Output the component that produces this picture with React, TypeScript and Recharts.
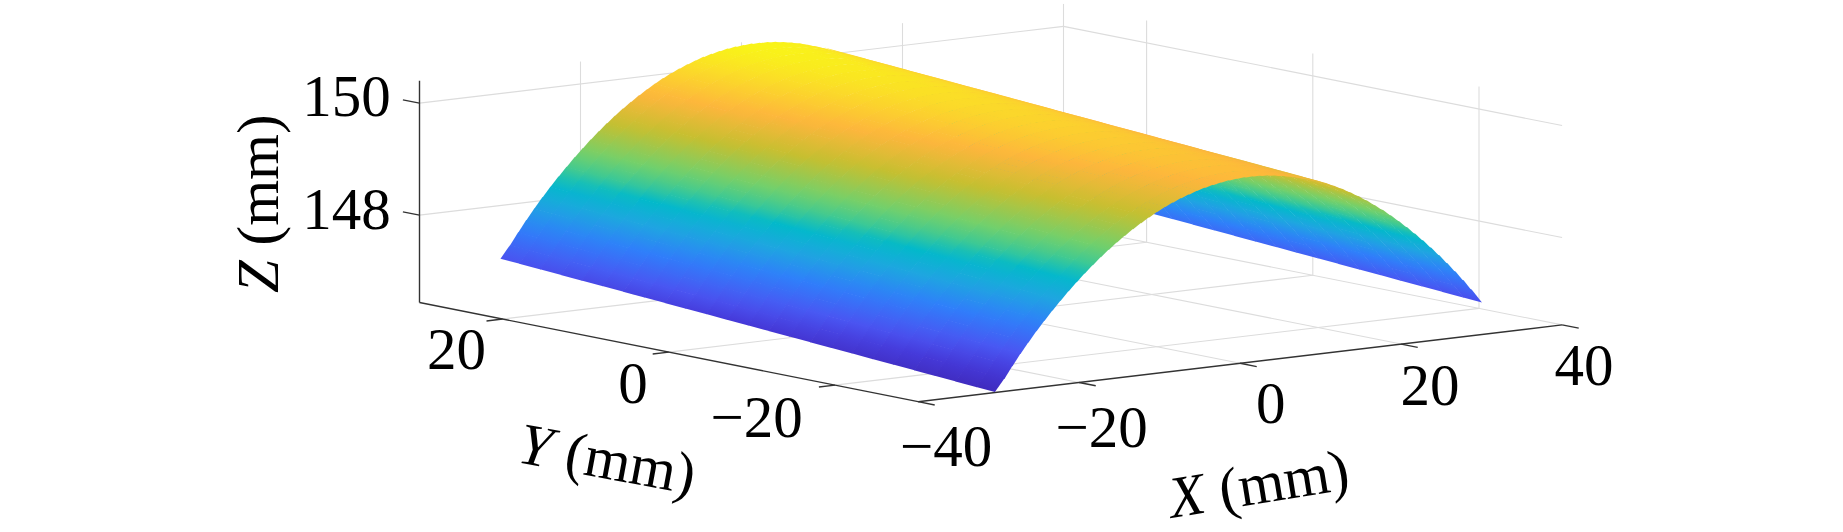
import React from 'react';
import { ScatterChart, Scatter, XAxis, YAxis } from 'recharts';

// ---- data -----------------------------------------------------------------
const xTicks = [-40, -20, 0, 20, 40];
const yTicks = [20, 0, -20];
const zTicks = [150, 148];
const xRange = [-40, 40];
const yRange = [-30, 30];
const zRange = [146.44, 150.4];

const xStations = [
  -30.2, -29, -28, -27, -26, -25, -24, -23, -22, -21, -20, -19, -18, -17, -16, -15, -14, -13, -12, -11, -10,
  -9, -8, -7, -6, -5, -4, -3, -2, -1, 0, 1, 2, 3, 4, 5, 6, 7, 8, 9, 10,
  11, 12, 13, 14, 15, 16, 17, 18, 19, 20, 21, 22, 23, 24, 25, 26, 27, 28, 29, 30.3,
];
const zProfile = [
  146.75, 146.975, 147.185, 147.385, 147.575, 147.757, 147.929, 148.093, 148.251, 148.403, 148.547,
  148.686, 148.817, 148.942, 149.06, 149.171, 149.275, 149.374, 149.465, 149.55, 149.628,
  149.7, 149.764, 149.824, 149.875, 149.922, 149.96, 149.993, 150.018, 150.038, 150.05,
  150.057, 150.056, 150.05, 150.036, 150.017, 149.989, 149.957, 149.916, 149.871, 149.818,
  149.759, 149.693, 149.621, 149.541, 149.456, 149.364, 149.265, 149.159, 149.047, 148.927,
  148.802, 148.669, 148.53, 148.385, 148.232, 148.072, 147.907, 147.733, 147.553, 147.31,
];
const yStations = [
  -29.75, -27.5, -25, -22.5, -20, -17.5, -15, -12.5, -10, -7.5, -5, -2.5, 0,
  2.5, 5, 7.5, 10, 12.5, 15, 17.5, 20, 22.5, 25, 27.5, 29.75,
];
const zShiftAlongY = [
  -0.312, -0.289, -0.263, -0.236, -0.21, -0.184, -0.158, -0.131, -0.105, -0.079, -0.053, -0.026, 0,
  0.026, 0.053, 0.079, 0.105, 0.131, 0.158, 0.184, 0.21, 0.236, 0.263, 0.289, 0.312,
];
const colorStops: [number, string][] = [
  [0, '#3f2bbd'],
  [0.08, '#4538d8'],
  [0.16, '#4a55f2'],
  [0.28, '#2f7ffa'],
  [0.38, '#1ea6e0'],
  [0.465, '#02b9ca'],
  [0.52, '#3cc995'],
  [0.59, '#74d06a'],
  [0.71, '#c6bf30'],
  [0.82, '#fdb63c'],
  [0.92, '#fbdc28'],
  [1, '#f8fa14'],
];

// ---- orthographic view of the 3-D box --------------------------------------
const W = 1843;
const H = 532;
const project = (x: number, y: number, z: number) => ({
  px: 419.5 + (x + 40) * 8.05 + (30 - y) * 8.31,
  py: 302.5 - (x + 40) * 0.96 + (30 - y) * 1.653 - (z - zRange[0]) * 56,
});

const hexToRgb = (h: string) => [1, 3, 5].map((i) => parseInt(h.slice(i, i + 2), 16));
const colorOf = (z: number) => {
  const t = Math.max(0, Math.min(1, (z - 146.44) / (150.42 - 146.44)));
  for (let i = 1; i < colorStops.length; i++) {
    if (t <= colorStops[i][0]) {
      const [a, ca] = colorStops[i - 1];
      const [b, cb] = colorStops[i];
      const f = (t - a) / (b - a);
      const A = hexToRgb(ca);
      const B = hexToRgb(cb);
      return `rgb(${A.map((v, k) => Math.round(v + (B[k] - v) * f)).join(',')})`;
    }
  }
  return colorStops[colorStops.length - 1][1];
};

// ---- marks built from the arrays --------------------------------------------
type Seg = { px: number; py: number; dx: number; dy: number };
const seg = (a: number[], b: number[]): Seg => {
  const p = project(a[0], a[1], a[2]);
  const q = project(b[0], b[1], b[2]);
  return { px: p.px, py: p.py, dx: q.px - p.px, dy: q.py - p.py };
};
const [x0, x1] = xRange;
const [y0, y1] = yRange;
const [z0, z1] = zRange;
const GRID_FLOOR_Y = 24;
const GRID_WALL_Z = z0 + 0.1;

const gridSegments: Seg[] = [
  ...zTicks.flatMap((z) => [seg([x0, y1, z], [x1, y1, z]), seg([x1, y1, z], [x1, y0, z])]),
  ...xTicks
    .filter((x) => x > x0)
    .flatMap((x) => [
      seg([x, y1, x === x1 ? z0 : GRID_WALL_Z], [x, y1, z1]),
      seg([x, x === x1 ? y1 : GRID_FLOOR_Y, z0], [x, y0, z0]),
    ]),
  ...yTicks.flatMap((y) => [seg([x1, y, z0], [x1, y, z1]), seg([x0, y, z0], [x1, y, z0])]),
];
const TICK = 2;
const axisSegments: Seg[] = [
  seg([x0, y1, z0], [x0, y1, z1]),
  seg([x0, y1, z0], [x0, y0, z0]),
  seg([x0, y0, z0], [x1, y0, z0]),
  ...zTicks.map((z) => seg([x0, y1, z], [x0, y1 + TICK, z])),
  ...yTicks.map((y) => seg([x0, y, z0], [x0 - TICK, y, z0])),
  ...xTicks.map((x) => seg([x, y0, z0], [x, y0 - TICK, z0])),
];

type Quad = { px: number; py: number; id: string; pts: number[][]; g: number[]; c0: string; c1: string };
const OVERLAP = 0.7;
const quads: Quad[] = [];
for (let i = xStations.length - 2; i >= 0; i--) {
  for (let j = yStations.length - 2; j >= 0; j--) {
    const z = (a: number, b: number) => zProfile[a] + zShiftAlongY[b];
    const A = project(xStations[i], yStations[j], z(i, j));
    const B = project(xStations[i], yStations[j + 1], z(i, j + 1));
    const C = project(xStations[i + 1], yStations[j + 1], z(i + 1, j + 1));
    const D = project(xStations[i + 1], yStations[j], z(i + 1, j));
    // gradient axis square to the strip's edges, so that neighbours meet seamlessly
    const ex = B.px - A.px;
    const ey = B.py - A.py;
    const len = Math.hypot(ex, ey);
    const nx = -ey / len;
    const ny = ex / len;
    const d = (D.px - A.px) * nx + (D.py - A.py) * ny;
    // each cell runs slightly under the cells painted after it, hiding the seams
    const s = d >= 0 ? -1 : 1;
    const ox = i > 0 ? s * nx * OVERLAP : 0;
    const oy = i > 0 ? s * ny * OVERLAP : 0;
    const tx = j > 0 ? (-ex / len) * OVERLAP : 0;
    const ty = j > 0 ? (-ey / len) * OVERLAP : 0;
    const corners = [
      [A.px + ox + tx, A.py + oy + ty],
      [B.px + ox, B.py + oy],
      [C.px, C.py],
      [D.px + tx, D.py + ty],
    ];
    quads.push({
      px: A.px,
      py: A.py,
      id: `q${i}_${j}`,
      pts: corners.map((p) => [p[0] - A.px, p[1] - A.py]),
      g: [nx * d, ny * d],
      c0: colorOf(z(i, j) / 2 + z(i, j + 1) / 2),
      c1: colorOf(z(i + 1, j) / 2 + z(i + 1, j + 1) / 2),
    });
  }
}

const minus = (v: number) => (v < 0 ? `\u2212${-v}` : `${v}`);
const xLabelOffset = [[28, 64.3], [22.6, 64.2], [30.7, 60], [29, 61], [22, 60]];
const yLabelOffset = [[-46, 50], [-35.8, 50.6], [-78.3, 52]];
const zLabelOffset = [[-73, 12.8], [-73, 14]];
const tickLabels = [
  ...xTicks.map((v, i) => ({ v, p: project(v, y0, z0), o: xLabelOffset[i] })),
  ...yTicks.map((v, i) => ({ v, p: project(x0, v, z0), o: yLabelOffset[i] })),
  ...zTicks.map((v, i) => ({ v, p: project(x0, y1, v), o: zLabelOffset[i] })),
].map((t) => ({ px: t.p.px + t.o[0], py: t.p.py + t.o[1], text: minus(t.v) }));

const axisTitles = [
  { px: 1172, py: 518, letter: 'X', rot: -9.3 },
  { px: 516, py: 462, letter: 'Y', rot: 10.5 },
  { px: 278, py: 293, letter: 'Z', rot: -90 },
];

const FONT = '"Liberation Serif", "Times New Roman", serif';
const FS = 59;

const gridShape = (p: any) => (
  <line x1={p.cx} y1={p.cy} x2={p.cx + p.payload.dx} y2={p.cy + p.payload.dy} stroke="#dcdcdc" strokeWidth={1.1} />
);
const axisShape = (p: any) => (
  <line x1={p.cx} y1={p.cy} x2={p.cx + p.payload.dx} y2={p.cy + p.payload.dy} stroke="#333333" strokeWidth={1.4} />
);
const quadShape = (p: any) => {
  const q: Quad = p.payload;
  const d = q.pts.map((v, k) => `${k ? 'L' : 'M'}${p.cx + v[0]} ${p.cy + v[1]}`).join('') + 'Z';
  return (
    <g>
      <linearGradient
        id={q.id}
        gradientUnits="userSpaceOnUse"
        x1={p.cx}
        y1={p.cy}
        x2={p.cx + q.g[0]}
        y2={p.cy + q.g[1]}
      >
        <stop offset="0" stopColor={q.c0} />
        <stop offset="1" stopColor={q.c1} />
      </linearGradient>
      <path d={d} fill={`url(#${q.id})`} />
    </g>
  );
};
const tickLabelShape = (p: any) => (
  <text x={p.cx} y={p.cy} textAnchor="middle" fontFamily={FONT} fontSize={FS} fill="#000">
    {p.payload.text}
  </text>
);
const titleShape = (p: any) => (
  <text
    x={p.cx}
    y={p.cy}
    fontFamily={FONT}
    fontSize={FS}
    fill="#000"
    transform={`rotate(${p.payload.rot} ${p.cx} ${p.cy})`}
    xmlSpace="preserve"
  >
    <tspan fontStyle="italic">{p.payload.letter}</tspan>
    <tspan> (mm)</tspan>
  </text>
);

export default function App() {
  return (
    <div style={{ position: 'absolute', left: 0, top: 0, width: W, height: H, background: '#fff' }}>
      <ScatterChart width={W} height={H} margin={{ top: 0, right: 0, bottom: 0, left: 0 }}>
        <XAxis type="number" dataKey="px" domain={[0, W]} hide />
        <YAxis type="number" dataKey="py" domain={[0, H]} reversed hide />
        <Scatter data={gridSegments} shape={gridShape} isAnimationActive={false} />
        <Scatter data={axisSegments} shape={axisShape} isAnimationActive={false} />
        <Scatter data={quads} shape={quadShape} isAnimationActive={false} />
        <Scatter data={tickLabels} shape={tickLabelShape} isAnimationActive={false} />
        <Scatter data={axisTitles} shape={titleShape} isAnimationActive={false} />
      </ScatterChart>
    </div>
  );
}
